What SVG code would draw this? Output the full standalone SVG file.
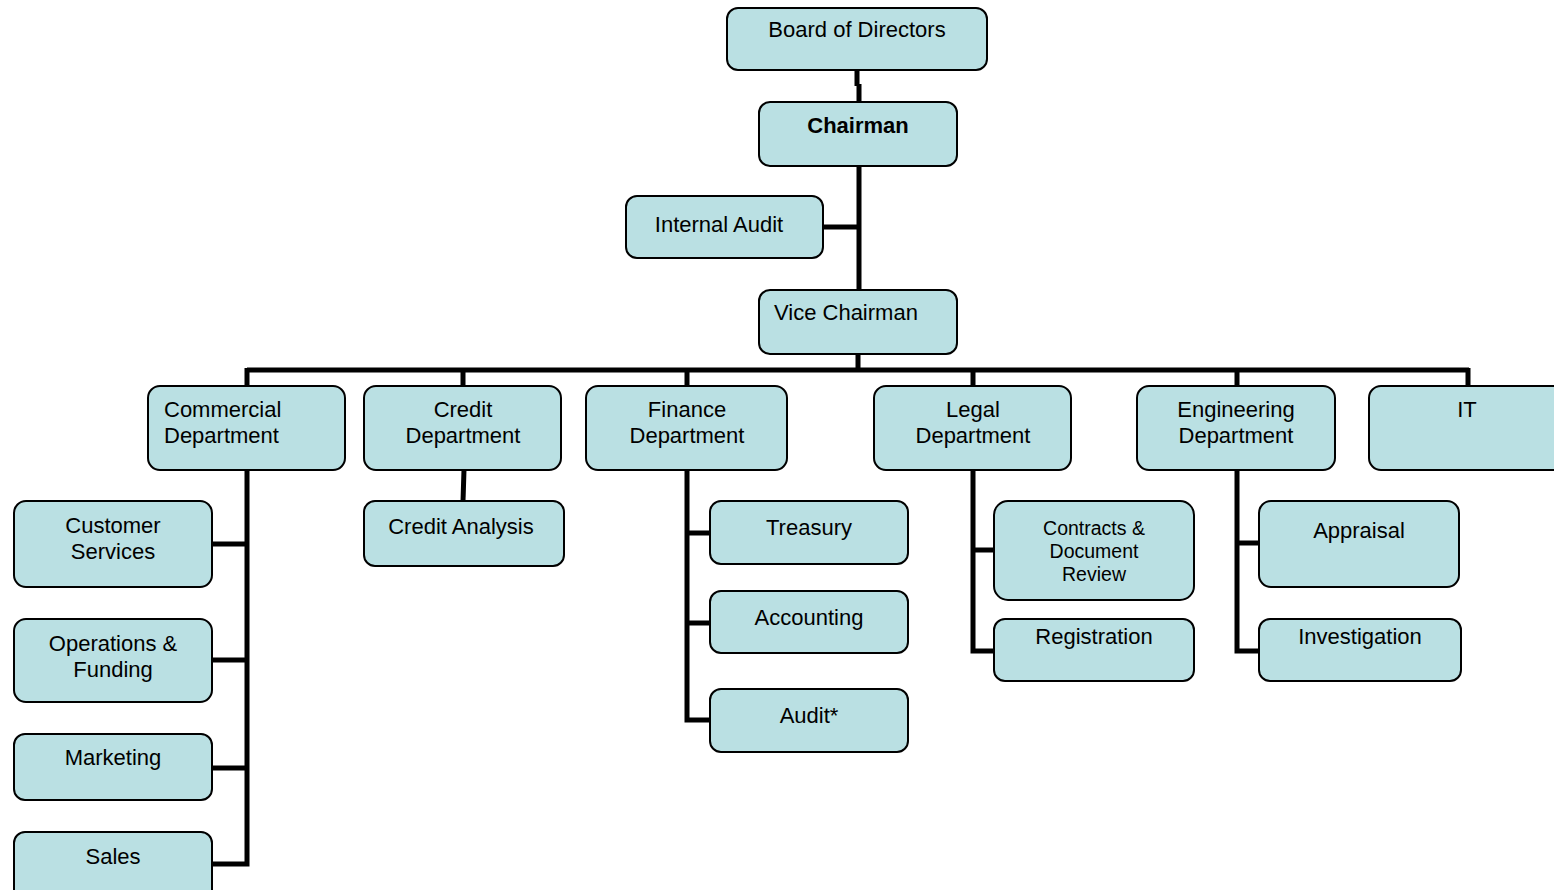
<svg xmlns="http://www.w3.org/2000/svg" width="1554" height="890" viewBox="0 0 1554 890">
<style>
.box{fill:#BAE0E3;stroke:#000;stroke-width:2}
.t{font-family:"Liberation Sans",Arial,sans-serif;font-size:22px;fill:#000;text-anchor:middle}
.s{font-size:19.5px}
.l{text-anchor:start}
.b{font-weight:bold}
.c{fill:none;stroke:#000;stroke-width:5;stroke-linecap:butt;stroke-linejoin:miter}
</style>
<rect width="1554" height="890" fill="#fff"/>
<g id="connectors">
<path class="c" d="M857,70 V86 M859,84 V102"/>
<path class="c" d="M859,166 V290 M823,227 H861"/>
<path class="c" d="M858,354 V370 M247,370 H1469 M247,368 V386 M463,368 V386 M687,368 V386 M973,368 V386 M1237,368 V386 M1468,368 V386"/>
<path class="c" d="M247,470 V866.5 M212,544 H249 M212,660 H249 M212,768 H249 M212,864 H249"/>
<path class="c" d="M464,470 L463,501"/>
<path class="c" d="M687,470 V722.5 M685,533 H710 M685,623 H710 M685,720 H710"/>
<path class="c" d="M973,470 V653.5 M971,550 H994 M971,651 H994"/>
<path class="c" d="M1237,470 V653.5 M1235,543 H1259 M1235,651 H1259"/>
</g>
<g id="board"><rect class="box" x="727" y="8" width="260" height="62" rx="11"/><text class="t" x="857" y="37">Board of Directors</text></g>
<g id="chairman"><rect class="box" x="759" y="102" width="198" height="64" rx="11"/><text class="t b" x="858" y="133">Chairman</text></g>
<g id="internal-audit"><rect class="box" x="626" y="196" width="197" height="62" rx="11"/><text class="t" x="719" y="232">Internal Audit</text></g>
<g id="vice-chairman"><rect class="box" x="759" y="290" width="198" height="64" rx="11"/><text class="t l" x="774" y="320">Vice Chairman</text></g>
<g id="commercial"><rect class="box" x="148" y="386" width="197" height="84" rx="12"/><text class="t l" x="164" y="417">Commercial</text><text class="t l" x="164" y="443">Department</text></g>
<g id="credit"><rect class="box" x="364" y="386" width="197" height="84" rx="12"/><text class="t" x="463" y="417">Credit</text><text class="t" x="463" y="443">Department</text></g>
<g id="finance"><rect class="box" x="586" y="386" width="201" height="84" rx="12"/><text class="t" x="687" y="417">Finance</text><text class="t" x="687" y="443">Department</text></g>
<g id="legal"><rect class="box" x="874" y="386" width="197" height="84" rx="12"/><text class="t" x="973" y="417">Legal</text><text class="t" x="973" y="443">Department</text></g>
<g id="engineering"><rect class="box" x="1137" y="386" width="198" height="84" rx="12"/><text class="t" x="1236" y="417">Engineering</text><text class="t" x="1236" y="443">Department</text></g>
<g id="it"><rect class="box" x="1369" y="386" width="200" height="84" rx="12"/><text class="t" x="1467" y="417">IT</text></g>
<g id="customer-services"><rect class="box" x="14" y="501" width="198" height="86" rx="12"/><text class="t" x="113" y="533">Customer</text><text class="t" x="113" y="559">Services</text></g>
<g id="operations"><rect class="box" x="14" y="619" width="198" height="83" rx="12"/><text class="t" x="113" y="651">Operations &amp;</text><text class="t" x="113" y="677">Funding</text></g>
<g id="marketing"><rect class="box" x="14" y="734" width="198" height="66" rx="11"/><text class="t" x="113" y="765">Marketing</text></g>
<g id="sales"><rect class="box" x="14" y="832" width="198" height="70" rx="11"/><text class="t" x="113" y="864">Sales</text></g>
<g id="credit-analysis"><rect class="box" x="364" y="501" width="200" height="65" rx="11"/><text class="t" x="461" y="534">Credit Analysis</text></g>
<g id="treasury"><rect class="box" x="710" y="501" width="198" height="63" rx="11"/><text class="t" x="809" y="535">Treasury</text></g>
<g id="accounting"><rect class="box" x="710" y="591" width="198" height="62" rx="11"/><text class="t" x="809" y="625">Accounting</text></g>
<g id="audit"><rect class="box" x="710" y="689" width="198" height="63" rx="11"/><text class="t" x="809" y="723">Audit*</text></g>
<g id="contracts"><rect class="box" x="994" y="501" width="200" height="99" rx="14"/><text class="t s" x="1094" y="535">Contracts &amp;</text><text class="t s" x="1094" y="558">Document</text><text class="t s" x="1094" y="581">Review</text></g>
<g id="registration"><rect class="box" x="994" y="619" width="200" height="62" rx="11"/><text class="t" x="1094" y="644">Registration</text></g>
<g id="appraisal"><rect class="box" x="1259" y="501" width="200" height="86" rx="12"/><text class="t" x="1359" y="538">Appraisal</text></g>
<g id="investigation"><rect class="box" x="1259" y="619" width="202" height="62" rx="11"/><text class="t" x="1360" y="644">Investigation</text></g>
</svg>
